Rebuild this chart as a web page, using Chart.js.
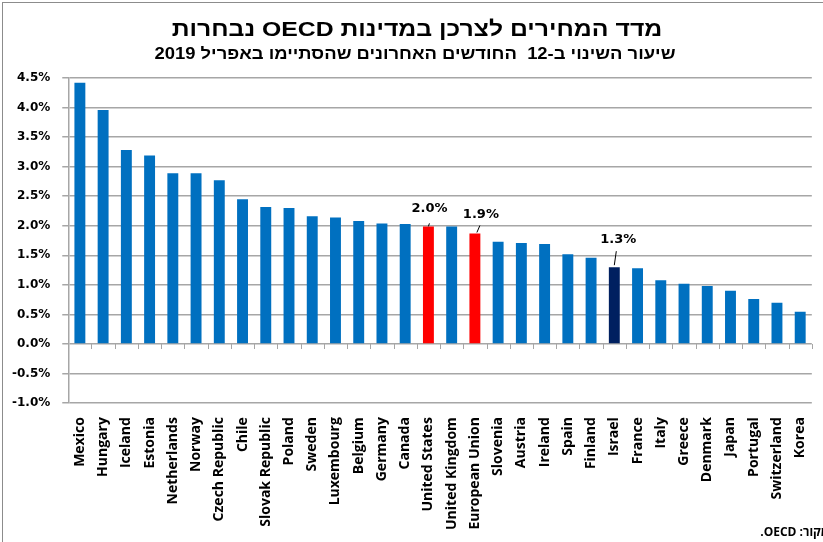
<!DOCTYPE html>
<html lang="he">
<head>
<meta charset="utf-8">
<script src="https://cdn.jsdelivr.net/npm/chart.js@4"></script>
<style>
  html, body { margin: 0; padding: 0; background: #fff; overflow: hidden; }
  canvas { display: block; }
</style>
</head>
<body>
<canvas id="chartCpi" width="823" height="542"></canvas>
<script>
// נתונים - שיעור השינוי ב-12 החודשים האחרונים (%)
const paises = ["Mexico", "Hungary", "Iceland", "Estonia", "Netherlands", "Norway", "Czech Republic",
  "Chile", "Slovak Republic", "Poland", "Sweden", "Luxembourg", "Belgium", "Germany", "Canada",
  "United States", "United Kingdom", "European Union", "Slovenia", "Austria", "Ireland", "Spain",
  "Finland", "Israel", "France", "Italy", "Greece", "Denmark", "Japan", "Portugal", "Switzerland", "Korea"];
const valores = [4.42, 3.96, 3.28, 3.19, 2.89, 2.89, 2.77,
  2.45, 2.32, 2.30, 2.16, 2.14, 2.08, 2.04, 2.03,
  1.99, 1.99, 1.87, 1.73, 1.71, 1.69, 1.52,
  1.46, 1.30, 1.28, 1.08, 1.02, 0.98, 0.90, 0.76, 0.70, 0.545];
const destacadosRojo = ["United States", "European Union"];
const destacadoIsrael = ["Israel"];
const etiquetas = { "United States": "2.0%", "European Union": "1.9%", "Israel": "1.3%" };
const tituloTexto = "מדד המחירים לצרכן במדינות OECD נבחרות";
const subtituloTexto = "שיעור השינוי ב-12  החודשים האחרונים שהסתיימו באפריל 2019";
const fuenteTexto = "מקור: OECD.";

const colores = paises.map(p => destacadosRojo.includes(p) ? "#FF0000" :
  destacadoIsrael.includes(p) ? "#002060" : "#0070C0");

// posiciones de las etiquetas respecto a la cima de la barra
const offsets = {
  "United States": { dx: 1, dy: -18, line: [[0, 0], [1, -3]] },
  "European Union": { dx: 6, dy: -19, line: [[2, -1], [5, -8]] },
  "Israel": { dx: 4, dy: -28, line: [[0, -2], [2, -16]] }
};

// texto RTL con escala horizontal (el original está estirado)
function textoRtl(ctx, texto, font, cx, cy, escala) {
  ctx.save();
  ctx.font = font;
  ctx.direction = "rtl";
  ctx.textAlign = "center";
  ctx.textBaseline = "middle";
  ctx.fillStyle = "#000";
  ctx.translate(cx, cy);
  ctx.scale(escala, 1);
  ctx.fillText(texto, 0, 0);
  ctx.restore();
}

const extras = {
  id: "extras",
  beforeDraw(chart) {
    const ctx = chart.ctx;
    ctx.save();
    ctx.strokeStyle = "#8c8c8c";
    ctx.lineWidth = 1;
    ctx.strokeRect(2.5, 2.5, 840, 560);
    ctx.restore();
    textoRtl(ctx, tituloTexto, "bold 21px 'Liberation Sans'", 417, 30, 1.18);
    textoRtl(ctx, subtituloTexto, "bold 16px 'Liberation Sans'", 415, 55, 1.15);
  },
  afterDatasetsDraw(chart) {
    const ctx = chart.ctx;
    const x = chart.scales.x, y = chart.scales.y;
    const y0 = y.getPixelForValue(0);
    ctx.save();
    // marcas del eje en la línea cero
    ctx.strokeStyle = "#a6a6a6";
    ctx.lineWidth = 1;
    for (let i = 0; i <= paises.length; i++) {
      const px = Math.round(x.getPixelForValue(i - 0.5)) + 0.5;
      ctx.beginPath();
      ctx.moveTo(px, y0);
      ctx.lineTo(px, y0 + 5);
      ctx.stroke();
    }
    // etiquetas de datos
    const meta = chart.getDatasetMeta(0);
    ctx.font = "bold 13px 'DejaVu Sans'";
    ctx.textAlign = "center";
    ctx.textBaseline = "middle";
    ctx.fillStyle = "#000";
    paises.forEach((p, i) => {
      if (!etiquetas[p]) return;
      const bar = meta.data[i];
      const o = offsets[p];
      ctx.fillText(etiquetas[p], bar.x + o.dx, bar.y + o.dy);
      ctx.strokeStyle = "#000";
      ctx.beginPath();
      ctx.moveTo(bar.x + o.line[0][0], bar.y + o.line[0][1]);
      ctx.lineTo(bar.x + o.line[1][0], bar.y + o.line[1][1]);
      ctx.stroke();
    });
    // fuente
    ctx.font = "bold 12px 'Open Sans'";
    ctx.direction = "rtl";
    ctx.textAlign = "right";
    ctx.fillText(fuenteTexto, 829, 533);
    ctx.restore();
  }
};

new Chart(document.getElementById("chartCpi").getContext("2d"), {
  type: "bar",
  data: {
    labels: paises,
    datasets: [{
      data: valores,
      backgroundColor: colores,
      borderWidth: 0,
      barPercentage: 0.47,
      categoryPercentage: 1
    }]
  },
  options: {
    responsive: false,
    animation: false,
    layout: { padding: { left: 0, right: 0, top: 78, bottom: 6 } },
    plugins: {
      legend: { display: false },
      tooltip: { enabled: false }
    },
    scales: {
      x: {
        grid: { display: false },
        border: { display: false },
        ticks: {
          color: "#000",
          minRotation: 90,
          maxRotation: 90,
          autoSkip: false,
          padding: 6,
          font: { family: "Open Sans", size: 14, weight: "bold" }
        }
      },
      y: {
        min: -1,
        max: 4.5,
        grid: { color: "#a6a6a6", lineWidth: 1.5, tickLength: 6 },
        border: { display: true, color: "#a6a6a6", width: 1.5 },
        ticks: {
          stepSize: 0.5,
          color: "#000",
          padding: 12,
          font: { family: "DejaVu Sans", size: 12, weight: "bold" },
          callback: v => v.toFixed(1) + "%"
        }
      }
    }
  },
  plugins: [extras]
});
</script>
</body>
</html>
